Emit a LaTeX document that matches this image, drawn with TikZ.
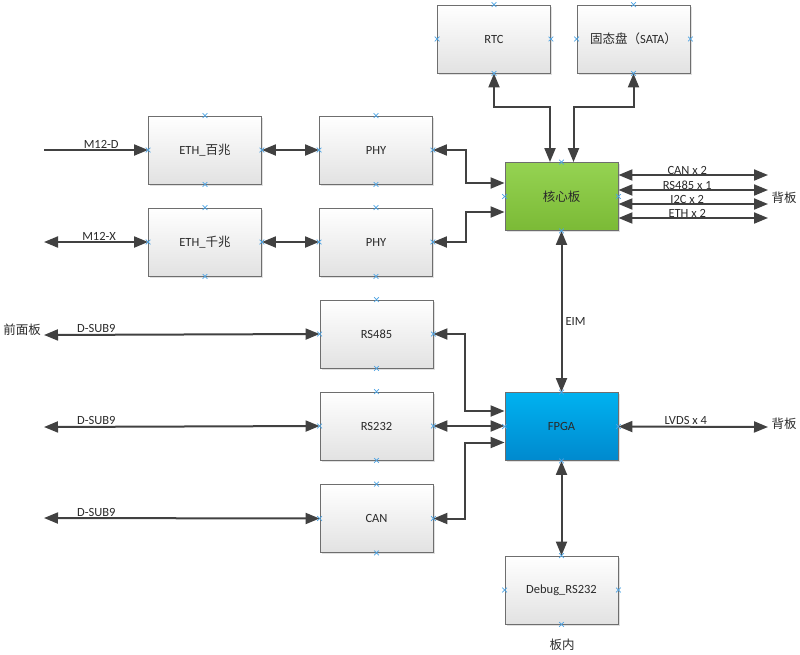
\documentclass[tikz,border=0pt]{standalone}
\usepackage{fontspec}
\setmainfont{Carlito}
\newfontfamily\cjk{Noto Sans CJK SC}
\usetikzlibrary{positioning, arrows.meta, shadows, shapes.misc}
\definecolor{boxline}{HTML}{6E6E6E}
\definecolor{boxgray}{HTML}{E2E2E2}
\definecolor{coretop}{HTML}{95D352}
\definecolor{corebot}{HTML}{7BBA36}
\definecolor{fpgatop}{HTML}{00B2F0}
\definecolor{fpgabot}{HTML}{0089CE}
\definecolor{linegray}{HTML}{414141}
\definecolor{cpblue}{HTML}{4DA3E3}
\definecolor{txtgray}{HTML}{2A2A2A}
\begin{document}
\begin{tikzpicture}[x=1pt,y=-1pt,
box/.style={draw=boxline,line width=0.9pt,minimum width=113pt,minimum height=68pt,inner sep=0pt,
  top color=white,bottom color=boxgray,text=txtgray,font=\fontsize{12.5pt}{14pt}\selectfont,
  drop shadow={shadow xshift=1.5pt,shadow yshift=-1.5pt,fill=black,opacity=0.12}},
core/.style={box,top color=coretop,bottom color=corebot},
fpga/.style={box,top color=fpgatop,bottom color=fpgabot},
link/.style={draw=linegray,line width=2pt,{Triangle[length=14pt,width=11pt]}-{Triangle[length=14pt,width=11pt]}},
inlink/.style={draw=linegray,line width=2pt,-{Triangle[length=14pt,width=11pt]}},
lbl/.style={text=txtgray,font=\fontsize{12.5pt}{14pt}\selectfont,inner sep=1pt},
cpt/.style={cross out,draw=cpblue,line width=0.7pt,minimum size=4pt,inner sep=0pt}]
\useasboundingbox (0,0) rectangle (800,654);

\node[box] (rtc) at (494,39) {RTC};
\node[box] (ssd) at (633.5,39) {{\cjk 固态盘（}SATA{\cjk ）}};
\node[box] (eth1) at (205,150) {ETH\_{\cjk 百兆}};
\node[box] (phy1) at (376,150) {PHY};
\node[box] (eth2) at (205,242) {ETH\_{\cjk 千兆}};
\node[box] (phy2) at (376,242) {PHY};
\node[core] (core) at (561.5,196.5) {{\cjk 核心板}};
\node[box] (rs485) at (376.5,334) {RS485};
\node[box] (rs232) at (376.5,426) {RS232};
\node[box] (can) at (376.5,518.5) {CAN};
\node[fpga] (fpga) at (561.5,426.5) {FPGA};
\node[box] (dbg) at (561.5,590) {Debug\_RS232};

\coordinate (m12d) at (44,150);
\coordinate (m12x) at (44,242);
\draw[inlink] (m12d) -- node[above,lbl,pos=0.55]{M12-D} (eth1.west);
\draw[link] (m12x) -- node[above,lbl,pos=0.53]{M12-X} (eth2.west);
\draw[link] (eth1.east) -- (phy1.west);
\draw[link] (eth2.east) -- (phy2.west);
\draw[link] (phy1.east) -- ++(33,0) |- ([yshift=13.5pt]core.west);
\draw[link] (phy2.east) -- ++(33,0) |- ([yshift=-15.5pt]core.west);
\draw[link] (rtc.south) -- ++(0,34) -| ([xshift=-11.5pt]core.north);
\draw[link] (ssd.south) -- ++(0,34) -| ([xshift=12pt]core.north);

\foreach \yy/\bus [count=\i] in {175/CAN x 2,190/RS485 x 1,204/I2C x 2,218/ETH x 2}{
  \coordinate (bk\i) at (768,\yy);
  \draw[link] (core.east |- bk\i) -- node[above=-1.5pt,lbl,pos=0.46]{\bus} (bk\i);
}
\node[lbl] (bp1) at (784,198) {\cjk 背板};

\draw[link] (core.south) -- node[right=2pt,lbl,pos=0.56]{EIM} (fpga.north);

\node[lbl] (fpanel) at (22,330) {\cjk 前面板};
\foreach \n/\yy [count=\i] in {rs485/335,rs232/427,can/518}{
  \coordinate (ds\i) at (44,\yy);
  \draw[link] (ds\i) -- node[above,lbl,pos=0.19]{D-SUB9} (\n.west);
}
\draw[link] (rs485.east) -- ++(32,0) |- ([yshift=15.5pt]fpga.west);
\draw[link] (rs232.east) -- (fpga.west |- rs232.east);
\draw[link] (can.east) -- ++(32,0) |- ([yshift=-16pt]fpga.west);

\coordinate (lvds) at (768,427);
\draw[link] (fpga.east) -- node[above,lbl,pos=0.45]{LVDS x 4} (lvds);
\node[lbl] (bp2) at (784,424) {\cjk 背板};

\draw[link] (fpga.south) -- (dbg.north);
\node[lbl] (inner) at (562,645) {\cjk 板内};

\foreach \n in {rtc,ssd,eth1,phy1,eth2,phy2,core,rs485,rs232,can,fpga,dbg}
  \foreach \a in {north,south,east,west}
    \node[cpt] (cp-\n-\a) at (\n.\a) {};
\end{tikzpicture}
\end{document}
